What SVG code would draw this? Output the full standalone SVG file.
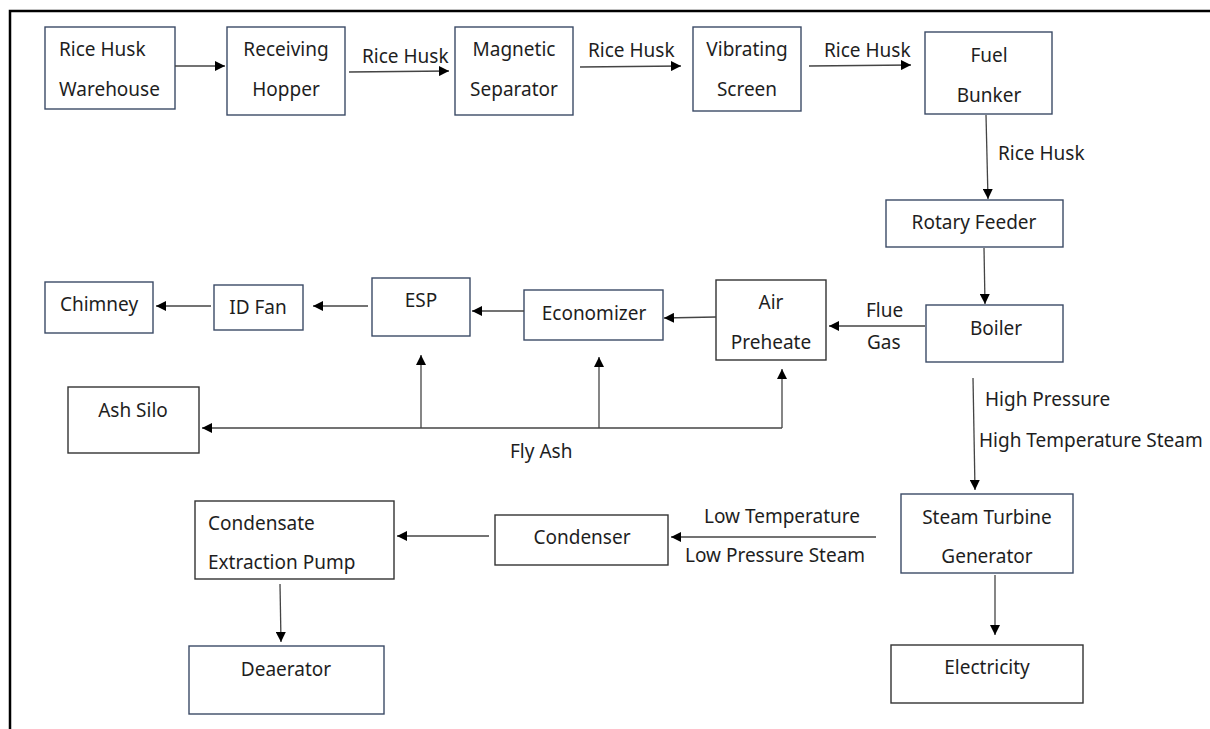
<svg xmlns="http://www.w3.org/2000/svg" width="1210" height="729" viewBox="0 0 1210 729">
<style>
.b{fill:#fff;stroke:#3b4a66;stroke-width:1.4}
.k{fill:#fff;stroke:#333;stroke-width:1.4}
text{font-family:"Noto Sans","Open Sans","Liberation Sans",sans-serif;font-size:19px;fill:#1e1e1e}
.m{text-anchor:middle}
.c{fill:none;stroke:#444;stroke-width:1.3;marker-end:url(#a)}
.l{fill:none;stroke:#444;stroke-width:1.3}
</style>
<defs>
<marker id="a" viewBox="0 0 10 10" refX="10" refY="5" markerWidth="10" markerHeight="10" markerUnits="userSpaceOnUse" orient="auto">
<path d="M0,0L10,5L0,10z" fill="#000"/>
</marker>
</defs>
<rect width="1210" height="729" fill="#fff"/>
<path d="M10,729V11H1210" fill="none" stroke="#000" stroke-width="2.5"/>
<g id="warehouse"><rect class="b" x="45" y="27" width="130" height="82"/><text x="59" y="56">Rice Husk</text><text x="59" y="96">Warehouse</text></g>
<g id="hopper"><rect class="b" x="227" y="27" width="118" height="88"/><text class="m" x="286" y="56">Receiving</text><text class="m" x="286" y="96">Hopper</text></g>
<g id="magnetic"><rect class="b" x="455" y="27" width="118" height="88"/><text class="m" x="514" y="56">Magnetic</text><text class="m" x="514" y="96">Separator</text></g>
<g id="vibrating"><rect class="b" x="693" y="27" width="108" height="84"/><text class="m" x="747" y="56">Vibrating</text><text class="m" x="747" y="96">Screen</text></g>
<g id="bunker"><rect class="b" x="925" y="32" width="127" height="82"/><text class="m" x="989" y="62">Fuel</text><text class="m" x="989" y="102">Bunker</text></g>
<g id="feeder"><rect class="b" x="886" y="200" width="177" height="47"/><text class="m" x="974" y="229">Rotary Feeder</text></g>
<g id="boiler"><rect class="b" x="926" y="305" width="137" height="57"/><text class="m" x="996" y="335">Boiler</text></g>
<g id="airpre"><rect class="k" x="716" y="280" width="110" height="80"/><text class="m" x="771" y="309">Air</text><text class="m" x="771" y="349">Preheate</text></g>
<g id="economizer"><rect class="b" x="524" y="290" width="139" height="50"/><text class="m" x="594" y="320">Economizer</text></g>
<g id="esp"><rect class="b" x="372" y="278" width="98" height="58"/><text class="m" x="421" y="307">ESP</text></g>
<g id="idfan"><rect class="b" x="214" y="285" width="89" height="45"/><text class="m" x="258" y="314">ID Fan</text></g>
<g id="chimney"><rect class="b" x="45" y="282" width="108" height="51"/><text class="m" x="99" y="311">Chimney</text></g>
<g id="ashsilo"><rect class="k" x="68" y="387" width="131" height="66"/><text class="m" x="133" y="417">Ash Silo</text></g>
<g id="stg"><rect class="b" x="901" y="494" width="172" height="79"/><text class="m" x="987" y="524">Steam Turbine</text><text class="m" x="987" y="563">Generator</text></g>
<g id="electricity"><rect class="k" x="891" y="645" width="192" height="58"/><text class="m" x="987" y="674">Electricity</text></g>
<g id="condenser"><rect class="k" x="495" y="515" width="173" height="50"/><text class="m" x="582" y="544">Condenser</text></g>
<g id="cep"><rect class="k" x="195" y="501" width="199" height="78"/><text x="208" y="530">Condensate</text><text x="208" y="569">Extraction Pump</text></g>
<g id="deaerator"><rect class="b" x="189" y="646" width="195" height="68"/><text class="m" x="286" y="676">Deaerator</text></g>
<g id="connectors">
<path class="c" d="M175,66H225"/>
<path class="c" d="M349,72L449,71"/>
<path class="c" d="M580,67L681,66"/>
<path class="c" d="M809,66L911,65"/>
<path class="c" d="M986,115L988,199"/>
<path class="c" d="M984,248L985,304"/>
<path class="c" d="M925,326H829"/>
<path class="c" d="M716,317L664,318"/>
<path class="c" d="M524,311H472"/>
<path class="c" d="M368,306H313"/>
<path class="c" d="M211,306H156"/>
<path class="l" d="M782,428H421"/>
<path class="c" d="M421,428H202"/>
<path class="c" d="M421,428V355"/>
<path class="c" d="M599,428V357"/>
<path class="c" d="M782,428V369"/>
<path class="c" d="M973,378L975,490"/>
<path class="c" d="M995,575V635"/>
<path class="c" d="M876,537H671"/>
<path class="c" d="M489,536H397"/>
<path class="c" d="M280,584L281,642"/>
</g>
<g id="labels">
<text x="362" y="63">Rice Husk</text>
<text x="588" y="57">Rice Husk</text>
<text x="824" y="57">Rice Husk</text>
<text x="998" y="160">Rice Husk</text>
<text x="866" y="317">Flue</text>
<text x="867" y="349">Gas</text>
<text x="510" y="458">Fly Ash</text>
<text x="985" y="406">High Pressure</text>
<text x="979" y="447">High Temperature Steam</text>
<text x="704" y="523">Low Temperature</text>
<text x="685" y="562">Low Pressure Steam</text>
</g>
</svg>
